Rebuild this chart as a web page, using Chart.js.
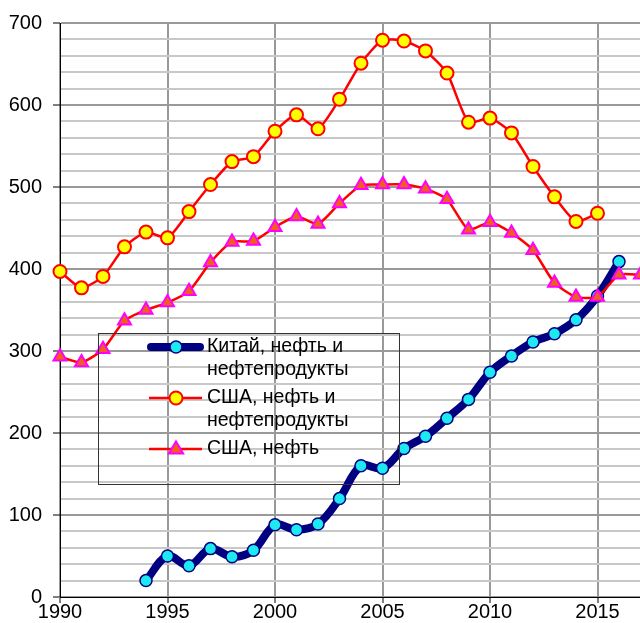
<!DOCTYPE html>
<html>
<head>
<meta charset="utf-8">
<script src="https://cdn.jsdelivr.net/npm/chart.js@4/dist/chart.umd.min.js"></script>
<style>
  html, body { margin: 0; padding: 0; background: #fff; overflow: hidden; }
  #wrap { width: 640px; height: 623px; overflow: hidden; }
  canvas { display: block; }
</style>
</head>
<body>
<div id="wrap"><canvas id="chart" width="650" height="623"></canvas></div>
<script>
// Years per series
const chinaYears = [1994, 1995, 1996, 1997, 1998, 1999, 2000, 2001, 2002, 2003, 2004, 2005,
    2006, 2007, 2008, 2009, 2010, 2011, 2012, 2013, 2014, 2015, 2016];
const usaTotalYears = [1990, 1991, 1992, 1993, 1994, 1995, 1996, 1997, 1998, 1999, 2000, 2001, 2002,
    2003, 2004, 2005, 2006, 2007, 2008, 2009, 2010, 2011, 2012, 2013, 2014, 2015];
const usaCrudeYears = [1990, 1991, 1992, 1993, 1994, 1995, 1996, 1997, 1998, 1999, 2000, 2001, 2002,
    2003, 2004, 2005, 2006, 2007, 2008, 2009, 2010, 2011, 2012, 2013, 2014, 2015, 2016, 2017];

// Net imports, mln t
const chinaValues = [20, 50, 38, 59, 49, 57, 88, 82, 89, 120, 160, 157,
    181, 196, 218, 241, 274, 294, 311, 321, 338, 367, 409];
const usaTotalValues = [397, 377, 391, 427, 445, 438, 470, 503, 531, 537, 568, 588, 571,
    607, 651, 679, 678, 666, 639, 579, 584, 566, 525, 488, 458, 468];
const usaCrudeValues = [293, 286, 302, 337, 350, 359, 373, 408, 433, 434, 451, 464, 455,
    480, 502, 503, 503, 498, 485, 448, 457, 444, 423, 383, 366, 366, 393, 393];

const seriesNames = [
    ['Китай, нефть и', 'нефтепродукты'],
    ['США, нефть и', 'нефтепродукты'],
    ['США, нефть']
];

const yearTicks = [1990, 1995, 2000, 2005, 2010, 2015];

const pts = (xs, ys) => xs.map((x, i) => ({ x: x, y: ys[i] }));

const FONT = 'Arial, "Liberation Sans", sans-serif';

// legend drawn inside the plot, over the grid
const boxLegend = {
    id: 'boxLegend',
    afterDraw(chart) {
        const ctx = chart.ctx;
        const ds = chart.data.datasets;
        ctx.save();
        ctx.strokeStyle = '#333';
        ctx.lineWidth = 1;
        ctx.strokeRect(98.5, 333.5, 301, 151);

        const rows = [347, 398, 449];
        ctx.font = '19.5px ' + FONT;
        ctx.textBaseline = 'middle';
        rows.forEach((y, i) => {
            const d = ds[i];
            ctx.beginPath();
            ctx.strokeStyle = d.borderColor;
            ctx.lineWidth = d.borderWidth;
            ctx.lineCap = i === 0 ? 'round' : 'butt';
            ctx.moveTo(i === 0 ? 151 : 149, y);
            ctx.lineTo(i === 0 ? 200 : 202, y);
            ctx.stroke();

            ctx.fillStyle = d.pointBackgroundColor;
            ctx.strokeStyle = d.pointBorderColor;
            ctx.lineWidth = d.pointBorderWidth;
            ctx.beginPath();
            if (d.pointStyle === 'triangle') {
                const r = d.pointRadius;
                ctx.moveTo(176, y - r);
                ctx.lineTo(176 + r * 0.95, y + r * 0.6);
                ctx.lineTo(176 - r * 0.95, y + r * 0.6);
                ctx.closePath();
            } else {
                ctx.arc(176, y, d.pointRadius, 0, Math.PI * 2);
            }
            ctx.fill();
            ctx.stroke();

            ctx.fillStyle = '#000';
            seriesNames[i].forEach((t, k) => ctx.fillText(t, 207, y + k * 23));
        });
        ctx.restore();
    }
};

new Chart(document.getElementById('chart'), {
    type: 'line',
    data: {
        datasets: [{
            label: seriesNames[0].join(' '),
            data: pts(chinaYears, chinaValues),
            borderColor: '#000080',
            borderWidth: 8,
            tension: 0.35,
            pointStyle: 'circle',
            pointRadius: 6,
            pointBackgroundColor: '#1ee8f0',
            pointBorderColor: '#000080',
            pointBorderWidth: 1.5,
            clip: false,
            order: 3
        }, {
            label: seriesNames[1].join(' '),
            data: pts(usaTotalYears, usaTotalValues),
            borderColor: '#ff0000',
            borderWidth: 2.5,
            tension: 0.2,
            pointStyle: 'circle',
            pointRadius: 6.5,
            pointBackgroundColor: '#ffff00',
            pointBorderColor: '#ff0000',
            pointBorderWidth: 2,
            clip: false,
            order: 2
        }, {
            label: seriesNames[2][0],
            data: pts(usaCrudeYears, usaCrudeValues),
            borderColor: '#ff0000',
            borderWidth: 2.5,
            tension: 0.2,
            pointStyle: 'triangle',
            pointRadius: 7.5,
            pointBackgroundColor: '#f0601a',
            pointBorderColor: '#ff00ff',
            pointBorderWidth: 2,
            clip: false,
            order: 1
        }]
    },
    options: {
        responsive: false,
        animation: false,
        layout: { padding: { top: 18, right: 8, left: 0, bottom: 0 } },
        plugins: {
            legend: { display: false },
            tooltip: { enabled: false }
        },
        scales: {
            x: {
                type: 'linear',
                min: 1990,
                max: 2017,
                afterBuildTicks: s => { s.ticks = yearTicks.map(v => ({ value: v })); },
                afterFit: s => { s.height = 26; },
                border: { color: '#000', width: 1 },
                grid: {
                    color: '#999',
                    lineWidth: 2,
                    tickColor: '#000',
                    tickWidth: 1,
                    tickLength: 6
                },
                ticks: {
                    color: '#000',
                    font: { family: FONT, size: 20 },
                    padding: -3,
                    maxRotation: 0,
                    autoSkip: false,
                    callback: v => String(v)
                }
            },
            y: {
                min: 0,
                max: 700,
                afterFit: s => { s.width = 60; },
                border: { color: '#000', width: 1 },
                grid: {
                    color: c => (c.tick && c.tick.value % 100 === 0) ? '#999' : '#c8c8c8',
                    lineWidth: 2,
                    tickColor: c => (c.tick && c.tick.value % 100 === 0) ? '#000' : 'rgba(0,0,0,0)',
                    tickWidth: 1,
                    tickLength: 7
                },
                ticks: {
                    stepSize: 20,
                    color: '#000',
                    font: { family: FONT, size: 20 },
                    padding: 11,
                    autoSkip: false,
                    callback: v => (v % 100 === 0 ? v : '')
                }
            }
        }
    },
    plugins: [boxLegend]
});
</script>
</body>
</html>
